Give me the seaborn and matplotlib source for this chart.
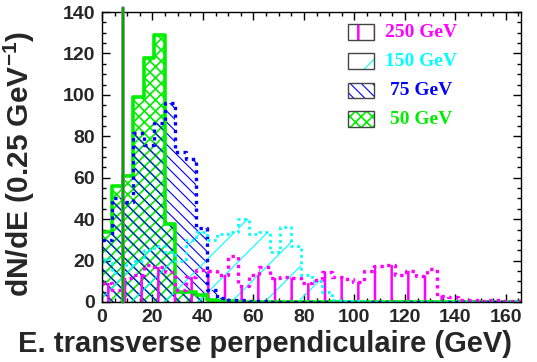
import numpy as np
import pandas as pd
import seaborn as sns
import matplotlib
matplotlib.use("Agg")
import matplotlib.pyplot as plt
from matplotlib.patches import Rectangle

# ---- data (40 bins from 0 to 166 GeV) ----
x_min, x_max, n_bins = 0.0, 166.0, 40
e50 = [34, 56, 61, 99, 118, 129, 37.7, 5, 5, 3.4, 0.8, 0.5, 0.3, 0.2, 0.2, 0, 0, 0, 0, 0,
       0, 0, 0, 0, 0, 0, 0, 0, 0, 0, 0, 0, 0, 0, 0, 0, 0, 0, 0, 0]
e75 = [30, 50, 48.5, 81.5, 76, 86.3, 96, 72.6, 69, 35.6, 6, 2, 1, 1, 0.5, 0.3, 0, 0, 0, 0,
       0, 0, 0, 0, 0, 0, 0, 0, 0, 0, 0, 0, 0, 0, 0, 0, 0, 0, 0, 0]
e150 = [21, 14, 18, 20, 25, 27, 24, 20, 30, 34, 30, 33, 34, 40, 33, 34, 24, 36, 27, 13,
        10, 5, 1, 0.5, 0.3, 0, 0, 0, 0, 0, 0, 0, 0, 0, 0, 0, 0, 0, 0, 0]
e250 = [9, 6, 11.4, 13, 18, 17, 14.6, 5.8, 12, 15.5, 15, 13, 22, 7.7, 13, 16.8, 11.5, 12, 11.5, 9,
        10.6, 14.6, 12.2, 11, 9.8, 15, 17.4, 17.9, 13, 15, 12.6, 16, 3, 2.5, 1, 1, 0.5, 1, 0.5, 0.3]
legend_labels = ["250 GeV", "150 GeV", "75 GeV", "50 GeV"]
cut_position = 8.3
xlabel = "E. transverse perpendiculaire (GeV)"
ylabel = "dN/dE (0.25 GeV$^{-1}$)"

edges = np.linspace(x_min, x_max, n_bins + 1)
centers = 0.5 * (edges[:-1] + edges[1:])

sns.set_style("ticks")
plt.rcParams["font.family"] = ["Liberation Sans", "DejaVu Sans"]
plt.rcParams["font.weight"] = "bold"
plt.rcParams["mathtext.default"] = "regular"
plt.rcParams["hatch.linewidth"] = 1.2

fig = plt.figure(figsize=(5.37, 3.62), dpi=100)
ax = fig.add_axes([102 / 537, 1 - 302 / 362, 419 / 537, 290 / 362])

series = [
    (e50, "#00ee00", "xxx", "-", 2.6, 1.2),
    (e75, "#0000ff", "\\\\\\", (0, (1, 1.3)), 2.4, 0.8),
    (e150, "#00ffff", "/", (0, (1, 1.3)), 2.0, 0.8),
    (e250, "#ff00ff", "|", (0, (1, 1.3)), 2.4, 1.8),
]

for vals, col, hatch, ls, lw, hlw in series:
    df = pd.DataFrame({"x": centers, "w": vals})
    n_before = len(ax.collections)
    sns.histplot(data=df, x="x", weights="w", bins=n_bins, binrange=(x_min, x_max),
                 element="step", fill=True, color=col, ax=ax)
    art = ax.collections[n_before]
    art.set_facecolor("none")
    art.set_edgecolor(col)
    art.set_linewidth(0)
    art.set_hatch(hatch)
    if hasattr(art, "set_hatch_linewidth"):
        art.set_hatch_linewidth(hlw)
    sns.histplot(data=df, x="x", weights="w", bins=n_bins, binrange=(x_min, x_max),
                 element="step", fill=False, color=col, linewidth=lw, linestyle=ls, ax=ax)

# vertical cut line
ax.axvline(cut_position, ymin=0, ymax=1.015, color="#808080", lw=2.6, clip_on=False, zorder=5)
ax.axvline(cut_position, ymin=0, ymax=1.015, color="#00aa00", lw=1.4, clip_on=False, zorder=6)

ax.set_xlim(x_min, x_max)
ax.set_ylim(0, 140)
ax.set_xticks(np.arange(0, 161, 20))
ax.set_yticks(np.arange(0, 141, 20))
ax.set_xticks(np.arange(0, 166, 5), minor=True)
ax.set_yticks(np.arange(0, 141, 5), minor=True)
ax.tick_params(which="both", direction="in", top=True, right=True, labelsize=14, width=1,
               color="black")
ax.tick_params(which="major", length=5.5, pad=5)
ax.tick_params(which="minor", length=3)
for lab in ax.get_xticklabels() + ax.get_yticklabels():
    lab.set_fontweight("bold")
for s in ax.spines.values():
    s.set_linewidth(1)
    s.set_color("black")

ax.set_xlabel(xlabel, fontsize=21, fontweight="bold")
ax.xaxis.set_label_coords(0.389, -0.095)
ax.set_ylabel(ylabel, fontsize=21.5, fontweight="bold")
ax.yaxis.set_label_coords(-0.155, 0.475)

# legend drawn as boxes in axes coordinates
box_y = [0.903, 0.803, 0.702, 0.604]
for (vals, col, hatch, ls, lw, hlw), lab, y0 in zip(series[::-1], legend_labels, box_y):
    r = Rectangle((0.586, y0), 0.064, 0.054, transform=ax.transAxes, facecolor="none",
                  edgecolor=col, hatch=hatch, linewidth=0, zorder=7)
    if hasattr(r, "set_hatch_linewidth"):
        r.set_hatch_linewidth(hlw)
    ax.add_patch(r)
    ax.add_patch(Rectangle((0.586, y0), 0.064, 0.054, transform=ax.transAxes,
                           facecolor="none", edgecolor="#444444", linewidth=1, zorder=8))
    ax.text(0.761, y0 + 0.027, lab, transform=ax.transAxes, ha="center", va="center",
            color=col, fontsize=14, fontweight="bold",
            family=["Liberation Serif", "DejaVu Serif"], zorder=8)

fig.savefig("out.png", dpi=100)
